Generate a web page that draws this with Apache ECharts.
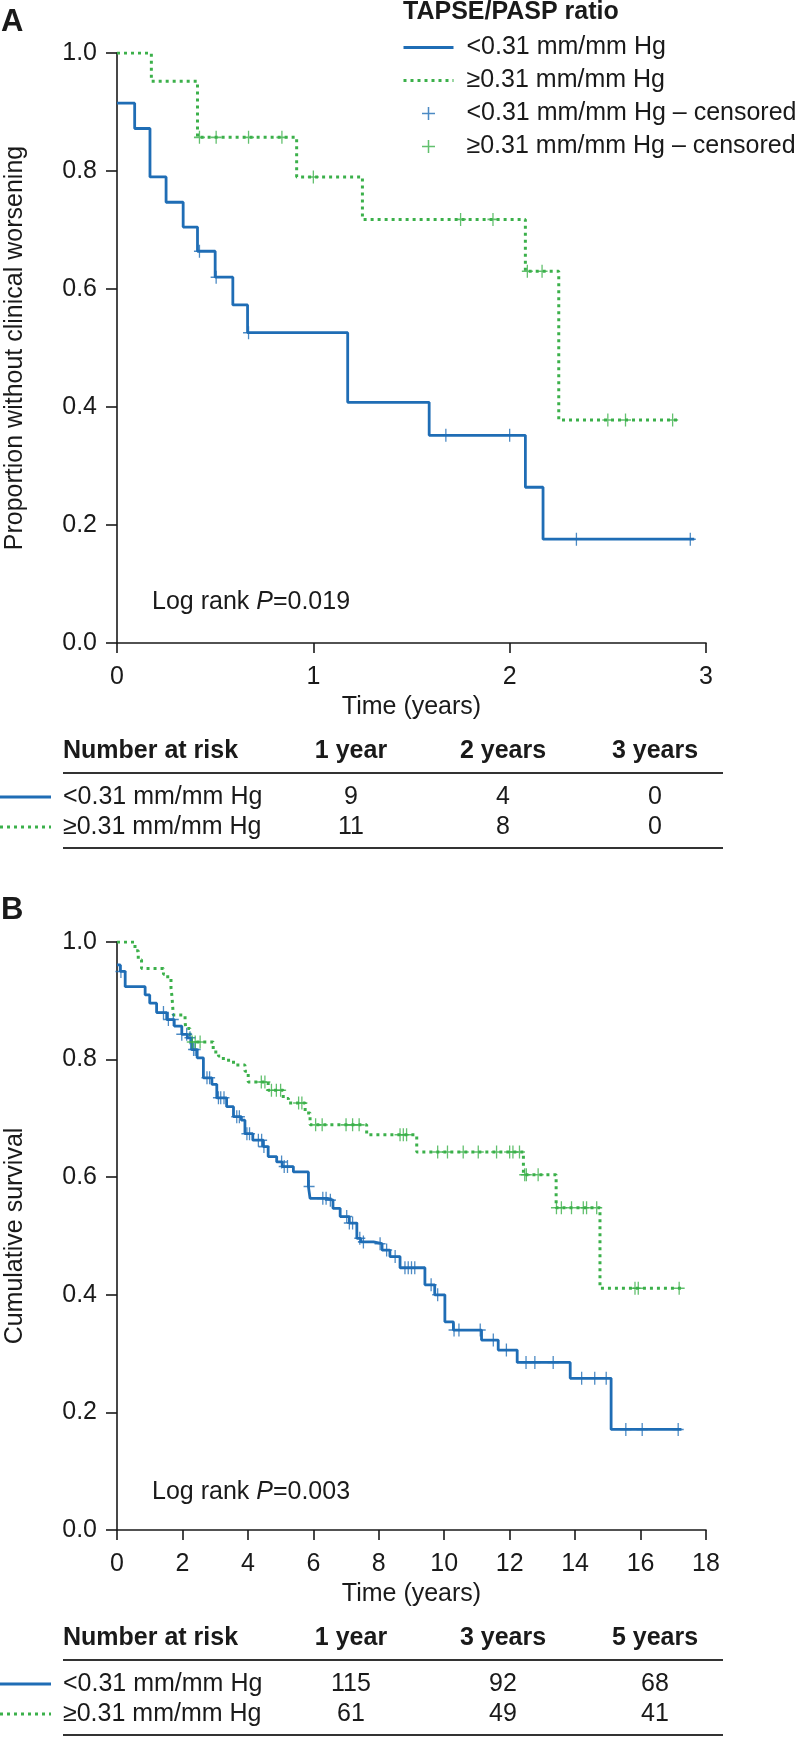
<!DOCTYPE html>
<html><head><meta charset="utf-8">
<script src="https://cdn.jsdelivr.net/npm/echarts@6/dist/echarts.min.js"></script>
<style>html,body{margin:0;padding:0;background:#fff}#c{width:800px;height:1737px}</style>
</head><body><div id="c"></div>
<script>
// ---------------- DATA ----------------
const groupLabels = ['<0.31 mm/mm Hg', '\u22650.31 mm/mm Hg'];
const censorSuffix = ' \u2013 censored';
const legendTitle = 'TAPSE/PASP ratio';

// Panel A: time to clinical worsening (step points: time, survival after the step)
const timeA_low  = [0, 0.09, 0.168, 0.25, 0.337, 0.41, 0.50, 0.59, 0.665, 1.175, 1.59, 2.08, 2.17, 2.94];
const survA_low  = [0.915, 0.872, 0.79, 0.747, 0.705, 0.664, 0.62, 0.573, 0.526, 0.408, 0.352, 0.264, 0.176, 0.176];
const censA_low  = [0.42, 0.505, 0.67, 1.675, 2.0, 2.34, 2.92];
const timeA_high = [0, 0.175, 0.41, 0.915, 1.25, 2.08, 2.25, 2.86];
const survA_high = [1.0, 0.952, 0.857, 0.79, 0.718, 0.63, 0.378, 0.378];
const censA_high = [0.42, 0.505, 0.67, 0.84, 1.0, 1.75, 1.915, 2.09, 2.165, 2.5, 2.59, 2.83];
const xTicksA = [0, 1, 2, 3];
const pTextA = '0.019';

// Panel B: cumulative survival
const timeB_low = [0, 0.1, 0.25, 0.86, 1.0, 1.21, 1.52, 1.75, 1.98, 2.15, 2.28, 2.45, 2.64, 2.9, 3.05, 3.35, 3.56, 3.8, 3.91, 4.15, 4.47, 4.62, 4.88, 5.05, 5.39, 5.85, 5.9, 6.41, 6.6, 6.82, 7.1, 7.33, 7.45, 7.84, 8.1, 8.34, 8.65, 9.41, 9.71, 10.02, 10.28, 11.14, 11.65, 12.23, 13.85, 15.1, 17.25];
const survB_low = [0.961, 0.95, 0.924, 0.91, 0.896, 0.88, 0.868, 0.857, 0.843, 0.837, 0.817, 0.803, 0.769, 0.758, 0.735, 0.72, 0.703, 0.697, 0.674, 0.663, 0.652, 0.635, 0.626, 0.618, 0.609, 0.584, 0.564, 0.561, 0.547, 0.533, 0.522, 0.496, 0.49, 0.487, 0.476, 0.465, 0.446, 0.417, 0.40, 0.354, 0.34, 0.323, 0.306, 0.285, 0.258, 0.171, 0.171];
const censB_low = [0.12, 1.42, 1.57, 1.72, 1.98, 2.13, 2.23, 2.34, 2.39, 2.75, 2.83, 3.1, 3.17, 3.27, 3.66, 3.74, 3.97, 4.05, 4.32, 4.42, 4.49, 5.03, 5.11, 5.21, 5.87, 6.29, 6.39, 6.52, 7.02, 7.1, 7.2, 7.42, 7.53, 8.04, 8.24, 8.5, 8.8, 8.9, 9.0, 9.1, 9.6, 9.8, 10.3, 10.45, 11.1, 11.5, 11.9, 12.5, 12.77, 13.33, 14.2, 14.6, 14.95, 15.55, 16.05, 17.15];
const timeB_high = [0, 0.55, 0.65, 0.75, 1.42, 1.55, 1.65, 1.68, 1.72, 2.08, 2.1, 2.23, 2.28, 2.94, 3.1, 3.25, 3.56, 3.91, 4.01, 4.62, 5.08, 5.24, 5.75, 5.9, 7.63, 9.16, 12.42, 13.42, 14.76, 17.25];
const survB_high = [1.0, 0.985, 0.97, 0.955, 0.945, 0.938, 0.922, 0.907, 0.876, 0.865, 0.853, 0.842, 0.83, 0.813, 0.806, 0.799, 0.791, 0.78, 0.762, 0.748, 0.734, 0.726, 0.709, 0.689, 0.672, 0.643, 0.604, 0.548, 0.411, 0.411];
const censB_high = [2.3, 2.39, 2.54, 4.41, 4.52, 4.72, 4.87, 5.0, 5.55, 5.65, 6.07, 6.27, 7.0, 7.2, 7.4, 8.65, 8.75, 8.85, 9.8, 10.1, 10.58, 11.04, 11.6, 12.0, 12.1, 12.3, 12.46, 12.51, 12.87, 13.43, 13.58, 13.89, 14.25, 14.35, 14.66, 15.83, 15.93, 17.18];
const xTicksB = [0, 2, 4, 6, 8, 10, 12, 14, 16, 18];
const pTextB = '0.003';

// Number-at-risk tables
const riskHeadA = ['1 year', '2 years', '3 years'];
const riskA_low = [9, 4, 0];
const riskA_high = [11, 8, 0];
const riskHeadB = ['1 year', '3 years', '5 years'];
const riskB_low = [115, 92, 68];
const riskB_high = [61, 49, 41];

// ---------------- STYLE / LAYOUT ----------------
const FONT = '"Liberation Sans", Arial, Helvetica, sans-serif';
const FS = 25;
const BLUE = '#1f6db5';
const GREEN = '#3bb04a';
const INK = '#1a1a1a';
const PLUS = 'path://M10.6,0H13.4V10.6H24V13.4H13.4V24H10.6V13.4H0V10.6H10.6Z';

function survAt(times, survs, t) {
  let s = survs[0];
  for (let i = 0; i < times.length; i++) if (times[i] <= t) s = survs[i];
  return s;
}
const zip = (a, b) => a.map((v, i) => [v, b[i]]);
const cens = (c, times, survs) => c.map(t => [t, survAt(times, survs, t)]);

function yAxis(gridIndex, name) {
  return {
    type: 'value', gridIndex, min: 0, max: 1, interval: 0.2,
    axisLine: { show: true, lineStyle: { color: INK, width: 1.6 } },
    axisTick: { show: true, length: 11, lineStyle: { color: INK, width: 1.6 } },
    axisLabel: { fontFamily: FONT, fontSize: FS, color: INK, margin: 20, formatter: v => v.toFixed(1) },
    splitLine: { show: false },
    name, nameLocation: 'middle', nameGap: 89,
    nameTextStyle: { fontFamily: FONT, fontSize: FS, color: INK }
  };
}
function xAxis(gridIndex, ticks) {
  const step = ticks[1] - ticks[0];
  return {
    type: 'value', gridIndex, min: ticks[0], max: ticks[ticks.length - 1], interval: step,
    axisLine: { show: true, onZero: false, lineStyle: { color: INK, width: 1.6 } },
    axisTick: { show: true, length: 10, lineStyle: { color: INK, width: 1.6 } },
    axisLabel: { fontFamily: FONT, fontSize: FS, color: INK, margin: 22 },
    splitLine: { show: false },
    name: 'Time (years)', nameLocation: 'middle', nameGap: 52,
    nameTextStyle: { fontFamily: FONT, fontSize: FS, color: INK }
  };
}
function kmSeries(idx, tl, sl, cl, th, sh, ch) {
  return [
    { name: groupLabels[0], type: 'line', xAxisIndex: idx, yAxisIndex: idx, step: 'end', symbol: 'none',
      data: zip(tl, sl), lineStyle: { color: BLUE, width: 2.8 }, itemStyle: { color: BLUE }, z: 3 },
    { name: groupLabels[1], type: 'line', xAxisIndex: idx, yAxisIndex: idx, step: 'end', symbol: 'none',
      data: zip(th, sh), lineStyle: { color: GREEN, width: 3, type: [3, 4] }, itemStyle: { color: GREEN }, z: 2 },
    { name: groupLabels[0] + censorSuffix, type: 'scatter', xAxisIndex: idx, yAxisIndex: idx,
      symbol: PLUS, symbolSize: [11, 13], data: cens(cl, tl, sl), itemStyle: { color: BLUE }, z: 4 },
    { name: groupLabels[1] + censorSuffix, type: 'scatter', xAxisIndex: idx, yAxisIndex: idx,
      symbol: PLUS, symbolSize: [11, 13], data: cens(ch, th, sh), itemStyle: { color: GREEN }, z: 4 }
  ];
}

const txt = (x, y, text, extra) => ({ type: 'text', x, y, silent: true,
  style: Object.assign({ text, fontFamily: FONT, fontSize: FS, fill: INK, align: 'left', verticalAlign: 'middle' }, extra || {}) });
const hline = (x1, x2, y, extra) => ({ type: 'line', silent: true, shape: { x1, y1: y, x2, y2: y },
  style: Object.assign({ stroke: '#333', lineWidth: 2 }, extra || {}) });

const colX = [351, 503, 655];
function riskTable(top, heads, low, high) {
  const g = [];
  g.push(txt(63, top, 'Number at risk', { fontWeight: 'bold' }));
  heads.forEach((h, i) => g.push(txt(colX[i], top, h, { fontWeight: 'bold', align: 'center' })));
  g.push(hline(63, 723, top + 22));
  const r1 = top + 46, r2 = top + 76;
  g.push(hline(0, 51, r1, { stroke: BLUE, lineWidth: 3 }));
  g.push(hline(0, 51, r2, { stroke: GREEN, lineWidth: 3, lineDash: [3, 4] }));
  g.push(txt(63, r1, groupLabels[0]));
  g.push(txt(63, r2, groupLabels[1]));
  low.forEach((v, i) => g.push(txt(colX[i], r1, String(v), { align: 'center' })));
  high.forEach((v, i) => g.push(txt(colX[i], r2, String(v), { align: 'center' })));
  g.push(hline(63, 723, top + 97));
  return g;
}
const logRank = (y, p) => txt(152, y, 'Log rank {i|P}=' + p, {
  rich: { i: { fontFamily: FONT, fontSize: FS, fontStyle: 'italic', fill: INK } } });

const chart = echarts.init(document.getElementById('c'), null, { renderer: 'canvas' });
chart.setOption({
  animation: false,
  backgroundColor: '#fff',
  grid: [
    { left: 117, top: 53, width: 589, height: 590, outerBoundsMode: 'none', containLabel: false },
    { left: 117, top: 942, width: 589, height: 588, outerBoundsMode: 'none', containLabel: false }
  ],
  xAxis: [xAxis(0, xTicksA), xAxis(1, xTicksB)],
  yAxis: [yAxis(0, 'Proportion without clinical worsening'), yAxis(1, 'Cumulative survival')],
  legend: {
    orient: 'vertical', left: 402, top: 35, padding: 0, itemWidth: 50, itemHeight: 13, itemGap: 8,
    selectedMode: false,
    lineStyle: { width: 3 },
    textStyle: { fontFamily: FONT, fontSize: FS, color: INK, lineHeight: 24, padding: [0, 0, 0, 8] },
    data: [
      { name: groupLabels[0], itemStyle: { opacity: 0 }, lineStyle: { width: 3, color: BLUE } },
      { name: groupLabels[1], itemStyle: { opacity: 0 }, lineStyle: { width: 3, color: GREEN, type: [3, 4] } },
      { name: groupLabels[0] + censorSuffix, icon: PLUS },
      { name: groupLabels[1] + censorSuffix, icon: PLUS }
    ]
  },
  series: [].concat(
    kmSeries(0, timeA_low, survA_low, censA_low, timeA_high, survA_high, censA_high),
    kmSeries(1, timeB_low, survB_low, censB_low, timeB_high, survB_high, censB_high)
  ),
  graphic: [].concat(
    [
      txt(1, 22, 'A', { fontWeight: 'bold', fontSize: 31 }),
      txt(1, 910, 'B', { fontWeight: 'bold', fontSize: 31 }),
      txt(403, 12, legendTitle, { fontWeight: 'bold' }),
      logRank(602, pTextA),
      logRank(1492, pTextB)
    ],
    riskTable(751, riskHeadA, riskA_low, riskA_high),
    riskTable(1638, riskHeadB, riskB_low, riskB_high)
  )
});
</script></body></html>
